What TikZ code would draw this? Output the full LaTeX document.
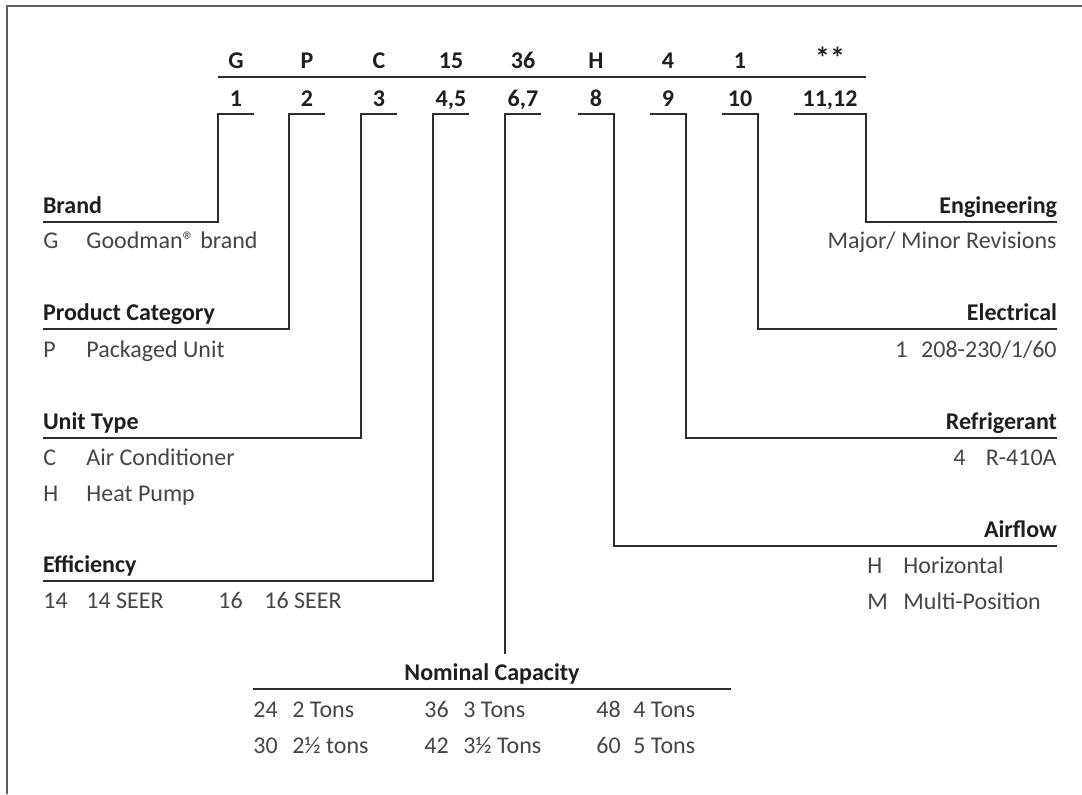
\documentclass[tikz,border=0pt]{standalone}
\usepackage{fontspec}
\setmainfont{Carlito}
\definecolor{inkline}{HTML}{2E2E2E}
\definecolor{inktext}{HTML}{454545}
\definecolor{inkhead}{HTML}{1E1E1E}
\definecolor{framegray}{HTML}{5E5E5E}

\begin{document}
\begin{tikzpicture}[x=0.5pt, y=-0.5pt,
  code/.style={font=\bfseries\fontsize{12}{14}\selectfont, text=inkhead, inner sep=0pt, anchor=base},
  head/.style={font=\bfseries\fontsize{12}{14}\selectfont, text=inkhead, inner sep=0pt, text depth=0pt, outer ysep=4.5pt, outer xsep=0pt},
  txt/.style={font=\fontsize{12}{14}\selectfont, text=inktext, inner sep=0pt, anchor=base west},
  txtr/.style={txt, anchor=base east},
  conn/.style={draw=inkline, line width=0.6pt},
  rule/.style={draw=inkline, line width=0.9pt}]
  \useasboundingbox (0,0) rectangle (1082,794);

  % Cornice
  \draw[framegray, line width=1pt] (1082,6) -- (7,6) -- (7,794);

  % Codice e posizioni
  \foreach \x/\w/\c/\p [count=\i] in {236/18/G/1, 307/18/P/2, 379/18/C/3, 451/18/15/{4,5},
      523/18/36/{6,7}, 596/18/H/8, 668/18/4/9, 740/18/1/10,
      830/36/{\fontsize{15}{15}\selectfont**}/{11,12}}{
    \node[code] (c\i) at (\x,68) {\c};
    \node[code] (p\i) at (\x,106) {\p};
    \coordinate (bl\i) at (\x-\w,114);
    \coordinate (br\i) at (\x+\w,114);
  }
  \draw[rule] (218,77) -- (866,77);

  % Titoli a sinistra
  \node[head, anchor=south west] (brand) at (43,222) {Brand};
  \node[head, anchor=south west] (categ) at (43,329) {Product Category};
  \node[head, anchor=south west] (utype) at (43,438) {Unit Type};
  \node[head, anchor=south west] (effic) at (43,581) {Efficiency};

  % Titoli a destra
  \node[head, anchor=south east] (engin) at (1057,222) {Engineering};
  \node[head, anchor=south east] (elec) at (1057,329) {Electrical};
  \node[head, anchor=south east] (refrig) at (1057,438) {Refrigerant};
  \node[head, anchor=south east] (airflow) at (1057,546) {Airflow};

  % Titolo in basso
  \node[head, anchor=south] (cap) at (492,689) {Nominal Capacity};
  \coordinate (capL) at (253,689);
  \coordinate (capR) at (731,689);
  \draw[conn] (capL) -- (capR);

  % Collegamenti
  \draw[conn] (br1) -- (bl1) |- (brand.south west);
  \draw[conn] (br2) -- (bl2) |- (categ.south west);
  \draw[conn] (br3) -- (bl3) |- (utype.south west);
  \draw[conn] (br4) -- (bl4) |- (effic.south west);
  \draw[conn] (br5) -- (bl5) -- (bl5 |- cap.north);
  \draw[conn] (bl6) -- (br6) |- (airflow.south east);
  \draw[conn] (bl7) -- (br7) |- (refrig.south east);
  \draw[conn] (bl8) -- (br8) |- (elec.south east);
  \draw[conn] (bl9) -- (br9) |- (engin.south east);

  % Voci a sinistra
  \node[txt] (brandK) at (43,248) {G};
  \node[txt] (brandV) at (86,248) {Goodman® brand};
  \node[txt] (categK) at (43,357) {P};
  \node[txt] (categV) at (86,357) {Packaged Unit};
  \node[txt] (utypeK1) at (43,465) {C};
  \node[txt] (utypeV1) at (86,465) {Air Conditioner};
  \node[txt] (utypeK2) at (43,501) {H};
  \node[txt] (utypeV2) at (86,501) {Heat Pump};
  \node[txt] (efficK1) at (43,608) {14};
  \node[txt] (efficV1) at (86,608) {14 SEER};
  \node[txt] (efficK2) at (218,608) {16};
  \node[txt] (efficV2) at (264,608) {16 SEER};

  % Voci a destra
  \node[txtr] (enginV) at (1057,248) {Major/ Minor Revisions};
  \node[txt] (elecK) at (895,357) {1};
  \node[txtr] (elecV) at (1057,357) {208-230/1/60};
  \node[txt] (refrigK) at (953,465) {4};
  \node[txtr] (refrigV) at (1057,465) {R-410A};
  \node[txt] (airK1) at (867,573) {H};
  \node[txt] (airV1) at (903,573) {Horizontal};
  \node[txt] (airK2) at (867,609) {M};
  \node[txt] (airV2) at (903,609) {Multi-Position};

  % Capacita
  \node[txt] (capK1) at (253,717) {24};
  \node[txt] (capV1) at (292,717) {2 Tons};
  \node[txt] (capK2) at (253,753) {30};
  \node[txt] (capV2) at (292,753) {2½ tons};
  \node[txt] (capK3) at (424,717) {36};
  \node[txt] (capV3) at (463,717) {3 Tons};
  \node[txt] (capK4) at (424,753) {42};
  \node[txt] (capV4) at (463,753) {3½ Tons};
  \node[txt] (capK5) at (596,717) {48};
  \node[txt] (capV5) at (633,717) {4 Tons};
  \node[txt] (capK6) at (596,753) {60};
  \node[txt] (capV6) at (633,753) {5 Tons};
\end{tikzpicture}
\end{document}
